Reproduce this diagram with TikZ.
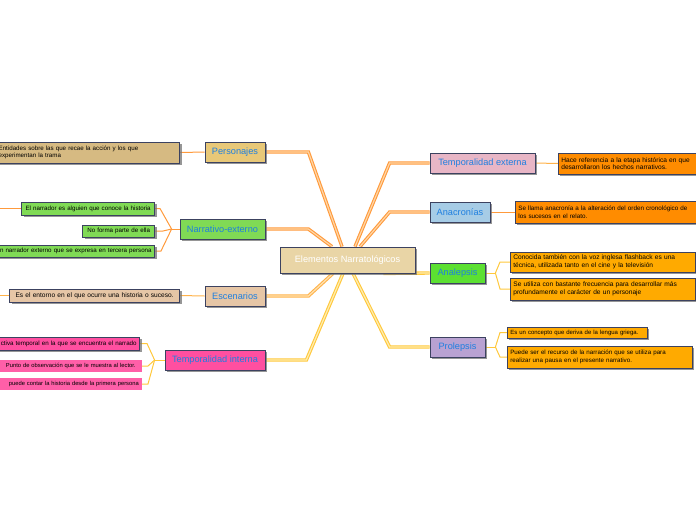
\documentclass[tikz,border=0pt]{standalone}
\usepackage{fontspec}
\setmainfont{Liberation Sans}
\usetikzlibrary{shadows,backgrounds,calc}
\definecolor{frame}{HTML}{3C4260}
\definecolor{topicblue}{HTML}{1E7FE0}
\definecolor{cTan}{HTML}{E9D5A6}
\definecolor{cPers}{HTML}{E8C878}
\definecolor{cPersL}{HTML}{D6BA82}
\definecolor{cGreen}{HTML}{80DA55}
\definecolor{cEsc}{HTML}{E6C6A6}
\definecolor{cPink}{HTML}{FF4FA0}
\definecolor{cPinkL}{HTML}{FF5FA8}
\definecolor{cRose}{HTML}{E8B6C6}
\definecolor{cBlue}{HTML}{A6CCE6}
\definecolor{cLime}{HTML}{5CE032}
\definecolor{cLav}{HTML}{B9A2D2}
\definecolor{cOrange}{HTML}{FF8C00}
\definecolor{cAmber}{HTML}{FFAA00}
\definecolor{lO}{HTML}{FF9A3C}
\definecolor{lOin}{HTML}{FFD6A6}
\definecolor{lA}{HTML}{FFB24A}
\definecolor{lAin}{HTML}{FFE2B0}
\definecolor{lY}{HTML}{FFC83C}
\definecolor{lYin}{HTML}{FFEDB0}
\tikzset{
  shad/.style={drop shadow={shadow xshift=2pt, shadow yshift=-2pt, fill=black!55, opacity=0.75}},
  topic/.style={draw=frame, line width=0.8pt, font=\fontsize{9.2}{10}\selectfont, text=topicblue, inner sep=0pt, shad},
  leaf/.style={draw=frame, line width=0.7pt, inner xsep=3pt, inner ysep=1pt, font=\fontsize{6.2}{7.6}\selectfont, align=left, shad},
  leafnb/.style={inner xsep=3pt, inner ysep=1pt, font=\fontsize{5.8}{7}\selectfont, align=center},
  big/.style={font=\fontsize{6.6}{7.8}\selectfont},
  mainO/.style={draw=lO, double=lOin, line width=1.1pt, double distance=1.2pt},
  mainA/.style={draw=lA, double=lAin, line width=1.1pt, double distance=1.2pt},
  mainY/.style={draw=lY, double=lYin, line width=1.1pt, double distance=1.2pt},
  thinO/.style={draw=lO, line width=1pt},
  thinA/.style={draw=lA, line width=1pt},
  thinY/.style={draw=lY, line width=1pt},
}
\begin{document}
\begin{tikzpicture}[x=1pt,y=-1pt]
\useasboundingbox (0,0) rectangle (696,520);
% main topics
\node[topic, fill=cTan, minimum width=135pt, minimum height=26pt, text=white] (c) at (347.5,260) {Elementos Narratológicos};
\node[topic, fill=cPers, minimum width=60pt, minimum height=20pt] (pers) at (235,152) {Personajes};
\node[topic, fill=cGreen, minimum width=85pt, minimum height=20pt] (narr) at (222.5,229) {Narrativo-externo};
\node[topic, fill=cEsc, minimum width=60pt, minimum height=20pt] (esc) at (235,296) {Escenarios};
\node[topic, fill=cPink, minimum width=100pt, minimum height=20pt] (tint) at (215,360) {Temporalidad interna};
\node[topic, fill=cRose, minimum width=105pt, minimum height=20pt] (ext) at (482.5,163) {Temporalidad externa};
\node[topic, fill=cBlue, minimum width=60pt, minimum height=20pt] (anac) at (460,212) {Anacronías};
\node[topic, fill=cLime, minimum width=55pt, minimum height=20pt] (anal) at (457.5,273) {Analepsis};
\node[topic, fill=cLav, minimum width=55pt, minimum height=20pt] (prol) at (457.5,347) {Prolepsis};
% left leaves
\node[leaf, fill=cPersL, text width=178pt, minimum height=21pt, anchor=east] (persC) at (180,152.5) {Entidades sobre las que recae la acción y los que\\experimentan la trama};
\node[leaf, fill=cGreen, text width=127pt, minimum height=13pt, anchor=east, align=center] (n1) at (155,208.5) {El narrador es alguien que conoce la historia};
\node[leaf, fill=cGreen, text width=66pt, minimum height=12pt, anchor=east, align=center] (n2) at (155,231) {No forma parte de ella};
\node[leaf, fill=cGreen, text width=170pt, minimum height=12pt, anchor=east, align=right] (n3) at (155,251) {n narrador externo que se expresa en tercera persona};
\node[leaf, big, fill=cEsc, text width=164pt, minimum height=13pt, anchor=east, align=center] (escC) at (180,295.5) {Es el entorno en el que ocurre una historia o suceso.};
\node[leaf, fill=cPink, text width=170pt, minimum height=13pt, anchor=east, align=right] (t1) at (140,343.5) {ctiva temporal en la que se encuentra el narrado};
\node[leafnb, fill=cPinkL, text width=136pt, minimum height=12pt, anchor=east] (t2) at (142,366) {Punto de observación que se le muestra al lector.};
\node[leafnb, fill=cPinkL, text width=170pt, minimum height=12pt, anchor=east, align=right] (t3) at (142,384) {puede contar la historia desde la primera persona};
% right leaves
\node[leaf, big, fill=cOrange, text width=150pt, minimum height=21pt, anchor=west] (e1) at (558,163.5) {Hace referencia a la etapa histórica en que\\desarrollaron los hechos narrativos.};
\node[leaf, fill=cOrange, text width=185pt, minimum height=22pt, anchor=west, font=\fontsize{6.3}{7.8}\selectfont] (a1) at (515,212) {Se llama anacronía a la alteración del orden cronológico de\\los sucesos en el relato.};
\node[leaf, big, fill=cAmber, text width=179pt, minimum height=20pt, anchor=west] (an1) at (510,262) {Conocida también con la voz inglesa flashback es una\\técnica, utilizada tanto en el cine y la televisión};
\node[leaf, big, fill=cAmber, text width=179pt, minimum height=22pt, anchor=west] (an2) at (510,289) {Se utiliza con bastante frecuencia para desarrollar más\\profundamente el carácter de un personaje};
\node[leaf, fill=cAmber, text width=134pt, minimum height=11pt, anchor=west, font=\fontsize{6}{7}\selectfont] (p1) at (507,332.5) {Es un concepto que deriva de la lengua griega.};
\node[leaf, fill=cAmber, text width=179pt, minimum height=22pt, anchor=west] (p2) at (507,357) {Puede ser el recurso de la narración que se utiliza para\\realizar una pausa en el presente narrativo.};
% free ends and forks
\coordinate (n1free) at (-5,208.5);
\coordinate (escfree) at (-5,295.5);
\coordinate (nf) at ([xshift=-8pt]narr.west);
\coordinate (tf) at ([xshift=-10pt]tint.west);
\coordinate (af) at ([xshift=10pt]anal.east);
\coordinate (pf) at ([xshift=10pt]prol.east);
\begin{scope}[on background layer]
\draw[mainO] ([xshift=-5.5pt]c.north) -- ([xshift=43pt]pers.east) -- (pers.east);
\draw[mainO] ([xshift=-15.5pt]c.north) -- ([xshift=43pt]narr.east) -- (narr.east);
\draw[mainO] ([xshift=7.5pt]c.north) -- ([xshift=-40pt]ext.west) -- (ext.west);
\draw[mainO] ([xshift=12.5pt]c.north) -- ([xshift=-40pt]anac.west) -- (anac.west);
\draw[mainA] ([xshift=-14.5pt]c.south) -- ([xshift=43pt]esc.east) -- (esc.east);
\draw[mainY] ([xshift=-4.5pt]c.south) -- ([xshift=41pt]tint.east) -- (tint.east);
\draw[mainY] ([xshift=5.5pt]c.south) -- ([xshift=-40pt]prol.west) -- (prol.west);
\draw[mainY] ([xshift=-32pt]c.south east) -- (anal.west);
% leaf connectors
\draw[thinO] (persC.east) -- (pers.west);
\draw[thinO] (n1.west) -- (n1free);
\draw[thinO] (narr.west) -- (nf);
\draw[thinO] (n1.east) -- ++(5,0) -- (nf);
\draw[thinO] (n2.east) -- ++(8,0) -- (nf);
\draw[thinO] (n3.east) -- ++(6,0) -- (nf);
\draw[thinA] (escC.east) -- (esc.west);
\draw[thinA] (escC.west) -- (escfree);
\draw[thinY] (tint.west) -- (tf);
\draw[thinY] (t1.east) -- ++(7,0) -- (tf);
\draw[thinY] (t2.east) -- ++(6,0) -- (tf);
\draw[thinY] (t3.east) -- ++(6,0) -- (tf);
\draw[thinA] (ext.east) -- (e1.west);
\draw[thinO] (anac.east) -- (a1.west);
\draw[thinY] (anal.east) -- (af);
\draw[thinY] (an1.west) -- ++(-10,0) -- (af);
\draw[thinY] (an2.west) -- ++(-10,0) -- (af);
\draw[thinY] (prol.east) -- (pf);
\draw[thinY] (p1.west) -- ++(-7,0) -- (pf);
\draw[thinY] (p2.west) -- ++(-7,0) -- (pf);
\end{scope}
\end{tikzpicture}
\end{document}
